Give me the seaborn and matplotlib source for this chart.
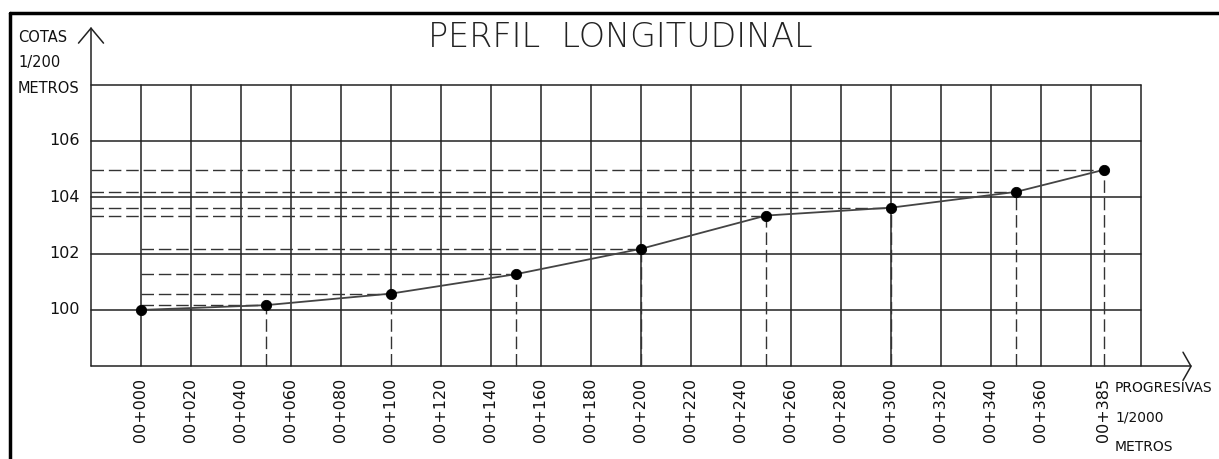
import matplotlib
matplotlib.use("Agg")
import matplotlib.pyplot as plt
import seaborn as sns
import numpy as np
import pandas as pd

# datos del perfil
estaciones = [0, 50, 100, 150, 200, 250, 300, 350, 385]
cotas = [100.00, 100.17, 100.58, 101.27, 102.17, 103.35, 103.63, 104.19, 104.97]

# etiquetas de ejes
tick_estaciones = list(range(0, 361, 20)) + [385]
tick_labels = ["00+%03d" % s for s in tick_estaciones]
y_ticks = [100, 102, 104, 106]

x_grid = list(range(-20, 401, 20))
y_grid = [100, 102, 104, 106, 108]

sns.set_style("white")
plt.rcParams['font.family'] = ['DejaVu Sans']

fig = plt.figure(figsize=(12.19, 4.59), dpi=100)
ax = fig.add_axes([0, 0, 1, 1])
ax.set_xlim(-56.4, 431.2)
ax.set_ylim(94.71, 111.0)
ax.axis("off")

grid_kw = dict(color="#222222", lw=1.1, zorder=1)
dash_kw = dict(color="#333333", lw=1.0, dashes=(9, 3.5), zorder=2)

# cuadricula
for x in x_grid:
    if x == 100:
        ax.plot([x, x], [cotas[estaciones.index(100)], 108], **grid_kw)
    elif x == -20:
        ax.plot([x, x], [98, 110.0], **grid_kw)
    else:
        ax.plot([x, x], [98, 108], **grid_kw)
for y in y_grid:
    ax.plot([-20, 400], [y, y], **grid_kw)
ax.plot([-20, 420], [98, 98], **grid_kw)

# flechas de los ejes
ax.plot([-25, -20, -15], [109.47, 110.0, 109.47], **grid_kw)
ax.plot([416.8, 420, 416.8], [98.5, 98, 97.5], **grid_kw)

# lineas de referencia
for s, c in zip(estaciones[1:], cotas[1:]):
    x0 = -20 if s >= 250 else 0
    ax.plot([x0, s], [c, c], **dash_kw)
    ax.plot([s, s], [98, c], **dash_kw)

df = pd.DataFrame({"estacion": estaciones, "cota": cotas})
sns.lineplot(data=df, x="estacion", y="cota", ax=ax, color="#444444", lw=1.3, zorder=3, sort=False)
sns.scatterplot(data=df, x="estacion", y="cota", ax=ax, color="black", s=55, edgecolor="black", zorder=4)
ax.set_xlim(-56.4, 431.2)
ax.set_ylim(94.71, 111.0)
ax.axis("off")

# textos
for s, lab in zip(tick_estaciones, tick_labels):
    ax.text(s, 97.6, lab, rotation=90, ha="center", va="top", fontsize=11.5, color="#111111")
for y in y_ticks:
    ax.text(-24.4, y, str(y), ha="right", va="center", fontsize=11.5, color="#111111")

ax.text(-49.2, 109.66, "COTAS", ha="left", va="center", fontsize=10.5, color="#111111")
ax.text(-49.2, 108.77, "1/200", ha="left", va="center", fontsize=10.5, color="#111111")
ax.text(-49.2, 107.85, "METROS", ha="left", va="center", fontsize=10.5, color="#111111")

ax.text(389.6, 97.24, "PROGRESIVAS", ha="left", va="center", fontsize=10, color="#111111")
ax.text(389.6, 96.18, "1/2000", ha="left", va="center", fontsize=10, color="#111111")
ax.text(389.6, 95.12, "METROS", ha="left", va="center", fontsize=10, color="#111111")

ax.text(191.6, 109.66, "PERFIL  LONGITUDINAL", ha="center", va="center", fontsize=24,
        family=["Liberation Sans Narrow", "DejaVu Sans"], fontweight="light", color="#222222")

# marco
fig.add_artist(plt.Line2D([10 / 1219, 1], [1 - 13 / 459, 1 - 13 / 459], transform=fig.transFigure, color="black", lw=2.5))
fig.add_artist(plt.Line2D([10 / 1219, 10 / 1219], [0, 1 - 13 / 459], transform=fig.transFigure, color="black", lw=2.5))

fig.savefig("out.png", dpi=100)
